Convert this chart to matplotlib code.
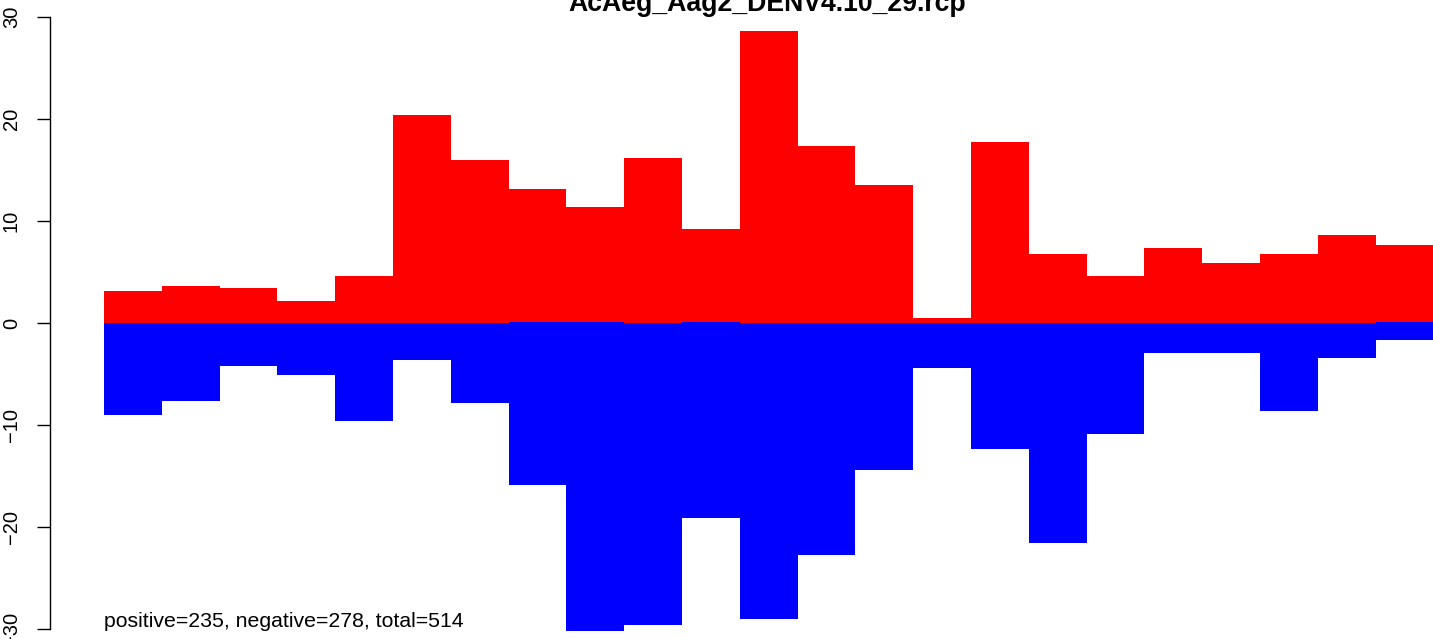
import matplotlib
matplotlib.use("Agg")
import matplotlib.pyplot as plt
import numpy as np

title = "AcAeg_Aag2_DENV4.10_29.rcp"
positive = [3.1, 3.6, 3.4, 2.15, 4.6, 20.4, 16.0, 13.1, 11.4, 16.2, 9.2, 28.6,
            17.4, 13.5, 0.5, 17.7, 6.8, 4.6, 7.4, 5.9, 6.8, 8.6, 7.6]
negative = [-9.0, -7.6, -4.2, -5.1, -9.6, -3.6, -7.8, -15.9, -30.2, -29.6, -19.1, -29.0,
            -22.7, -14.4, -4.4, -12.4, -21.6, -10.9, -2.9, -2.9, -8.6, -3.4, -1.7]
neg_start = [0, 0, 0, 0, 0, 0, 0, 0.1, 0.1, 0, 0.1, 0,
             0, 0, 0, 0, 0, 0, 0, 0, 0, 0, 0.1]
yticks = [-30, -20, -10, 0, 10, 20, 30]
note = "positive=235, negative=278, total=514"

W, H = 1433, 639
fig = plt.figure(figsize=(W / 100, H / 100), dpi=100)
plt.rcParams['font.family'] = ['Liberation Sans', 'DejaVu Sans']

ax_left = 50
ax = fig.add_axes([ax_left / W, 0, 1 - ax_left / W, 1])
ppu = 10.2
zero_px = 323
ax.set_ylim(-(H - zero_px) / ppu, zero_px / ppu)
barw_px = 57.8
first_px = 104
ax.set_xlim((ax_left - first_px) / barw_px, (W - first_px) / barw_px)

x = np.arange(len(positive))
ax.bar(x, positive, width=1.0, align='edge', color='#FF0000', linewidth=0)
ax.bar(x, np.array(negative) - np.array(neg_start), bottom=neg_start, width=1.0,
       align='edge', color='#0000FF', linewidth=0)

for s in ['top', 'right', 'bottom']:
    ax.spines[s].set_visible(False)
ax.spines['left'].set_bounds(-30, 30)
ax.spines['left'].set_linewidth(1.0)
ax.set_xticks([])
ax.set_yticks(yticks)
ax.set_yticklabels([str(t).replace('-', '\u2212') for t in yticks], rotation=90,
                   va='center', fontsize=14.5)
ax.tick_params(axis='y', length=9.5, width=1.0, pad=11.5)

ax.text(0, -(627 - zero_px) / ppu, note, ha='left', va='baseline', fontsize=15.3)
fig.text(767 / W, 1 - 11 / H, title, ha='center', va='baseline', fontsize=19.2,
         fontweight='bold')

fig.savefig("out.png", dpi=100)
